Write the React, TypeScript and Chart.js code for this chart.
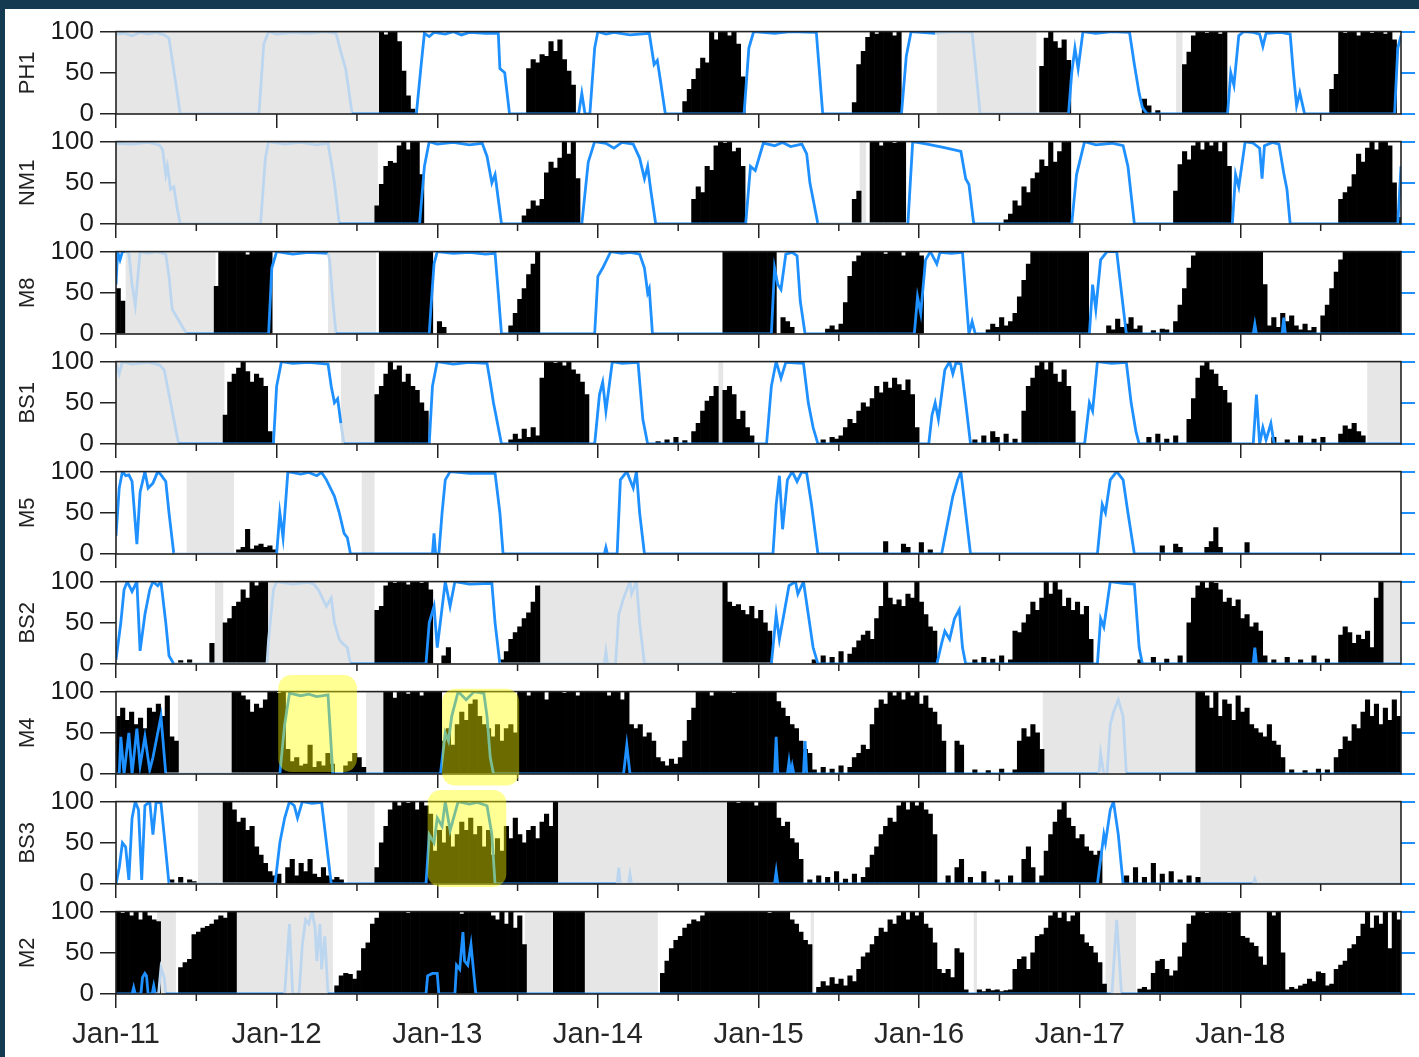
import React, { useEffect, useRef } from 'react';
import { Chart, registerables } from 'chart.js';

Chart.register(...registerables);
Chart.defaults.font.family = "'Liberation Sans', Arial, Helvetica, sans-serif";

// ---------- axis definitions ----------
const X_START = 2011;
const X_END = 2019;
const BINS_PER_YEAR = 36;
const X_TICK_YEARS = [2011, 2012, 2013, 2014, 2015, 2016, 2017, 2018];
const X_TICK_LABELS = ['Jan-11', 'Jan-12', 'Jan-13', 'Jan-14', 'Jan-15', 'Jan-16', 'Jan-17', 'Jan-18'];
const MINOR_TICK_YEARS = [2011.5, 2012.5, 2013.5, 2014.5, 2015.5, 2016.5, 2017.5, 2018.5];
const Y_MIN = 0;
const Y_MAX = 100;
const Y_STEP = 50;

// ---------- data (bars: one row of 36 ~10-day bins per year; blue: [decimal year, value]; gaps: [from, to]) ----------
const PH1_BARS = [
  [0,0,0,0,0,0,0,0,0,0, 0,0,0,0,0,0,0,0,0,0, 0,0,0,0,0,0,0,0,0,0, 0,0,0,0,0,0],
  [0,0,0,0,0,0,0,0,0,0, 0,0,0,0,0,0,0,0,0,0, 0,0,0,100,96,100,100,88,52,22, 6,0,0,0,0,0],
  [0,0,0,0,0,0,0,0,0,0, 0,0,0,0,0,0,0,0,0,0, 55,66,62,72,70,88,76,90,66,52, 35,0,0,0,0,0],
  [0,0,0,0,0,0,0,0,0,0, 0,0,0,0,0,0,0,0,0,15, 30,42,55,68,62,100,90,100,100,95, 100,85,45,0,0,0],
  [0,0,0,0,0,0,0,0,0,0, 0,0,0,0,0,0,0,0,0,0, 0,14,60,76,93,100,97,100,100,100, 95,100,0,0,0,0],
  [0,0,0,0,0,0,0,0,0,0, 0,0,0,0,0,0,0,0,0,0, 0,0,0,0,0,0,0,58,92,100, 88,80,90,65,0,0],
  [0,0,0,0,0,0,0,0,0,0, 0,0,0,0,18,10,0,4,0,0, 0,0,0,60,75,95,100,100,98,100, 100,97,100,0,0,0],
  [0,0,0,0,0,0,0,0,0,0, 0,0,0,0,0,0,0,0,0,0, 30,48,100,98,100,100,95,100,100,98, 100,100,97,100,90,0],
];
const PH1_BLUE = [
  [2011.00,97],[2011.05,98],[2011.10,95],[2011.15,99],[2011.20,97],[2011.25,99],[2011.30,96],[2011.33,92],[2011.37,40],[2011.40,0],
  [2011.89,0],[2011.92,85],[2011.95,100],[2012.00,97],[2012.10,99],[2012.20,98],[2012.30,100],[2012.37,98],[2012.40,75],[2012.43,55],[2012.47,0],
  [2012.87,0],[2012.90,60],[2012.92,98],[2012.95,94],[2012.98,99],[2013.05,97],[2013.10,100],[2013.15,96],[2013.20,99],[2013.30,98],[2013.38,98],[2013.39,55],[2013.42,50],[2013.45,0],
  [2013.88,0],[2013.90,25],[2013.92,0],[2013.95,0],[2013.98,80],[2014.00,100],[2014.05,97],[2014.10,99],[2014.20,96],[2014.32,98],[2014.35,60],[2014.37,65],[2014.39,40],[2014.42,0],
  [2014.91,0],[2014.94,80],[2014.97,100],[2015.10,98],[2015.20,100],[2015.36,99],[2015.40,0],
  [2015.89,0],[2015.92,70],[2015.95,100],[2016.10,98],[2016.20,100],[2016.33,99],[2016.38,0],
  [2016.93,0],[2016.95,50],[2016.97,80],[2016.99,55],[2017.02,100],[2017.10,98],[2017.20,100],[2017.31,99],[2017.34,60],[2017.37,25],[2017.39,8],[2017.42,0],
  [2017.92,0],[2017.94,50],[2017.96,35],[2017.99,95],[2018.02,100],[2018.08,99],[2018.12,97],[2018.14,82],[2018.16,98],[2018.25,99],[2018.31,97],[2018.33,50],[2018.35,10],[2018.37,26],[2018.40,0],
  [2018.96,0],[2018.98,80],[2019.00,95],
];
const PH1_GAPS = [[2011, 2012.63], [2016.11, 2016.73], [2017.60, 2017.64]];

const NM1_BARS = [
  [0,0,0,0,0,0,0,0,0,0, 0,0,0,0,0,0,0,0,0,0, 0,0,0,0,0,0,0,0,0,0, 0,0,0,0,0,0],
  [0,0,0,0,0,0,0,0,0,0, 0,0,0,0,0,0,0,0,0,0, 0,0,22,48,70,76,74,95,100,90, 100,100,60,0,0,0],
  [0,0,0,0,0,0,0,0,0,0, 0,0,0,0,0,0,0,0,0,10, 18,28,22,30,62,75,68,80,100,85, 100,55,0,0,0,0],
  [0,0,0,0,0,0,0,0,0,0, 0,0,0,0,0,0,0,0,0,0, 0,30,45,38,70,65,95,100,98,100, 88,92,70,0,0,0],
  [0,0,0,0,0,0,0,0,0,0, 0,0,0,0,0,0,0,0,0,0, 0,30,40,0,0,100,100,95,100,100, 98,100,100,0,0,0],
  [0,0,0,0,0,0,0,0,0,0, 0,0,0,0,0,0,0,0,0,5, 12,28,22,45,38,55,62,78,70,100, 75,88,100,100,0,0],
  [0,0,0,0,0,0,0,0,0,0, 0,0,0,0,0,0,0,0,0,0, 0,40,72,88,78,95,100,90,100,95, 100,88,100,70,0,0],
  [0,0,0,0,0,0,0,0,0,0, 0,0,0,0,0,0,0,0,0,0, 0,0,30,38,45,60,85,75,92,100, 90,100,100,95,50,8],
];
const NM1_BLUE = [
  [2011.00,98],[2011.10,97],[2011.20,99],[2011.27,96],[2011.29,90],[2011.31,60],[2011.32,70],[2011.34,42],[2011.36,45],[2011.38,20],[2011.40,0],
  [2011.90,0],[2011.93,80],[2011.95,100],[2012.05,97],[2012.15,99],[2012.25,96],[2012.32,98],[2012.34,75],[2012.36,50],[2012.39,0],
  [2012.89,0],[2012.92,70],[2012.95,100],[2013.00,97],[2013.10,99],[2013.20,96],[2013.28,98],[2013.31,82],[2013.34,50],[2013.36,60],[2013.38,30],[2013.40,0],
  [2013.90,0],[2013.94,75],[2013.98,100],[2014.05,98],[2014.10,92],[2014.15,99],[2014.22,97],[2014.26,80],[2014.29,55],[2014.31,70],[2014.33,40],[2014.36,0],
  [2014.92,0],[2014.95,70],[2014.98,65],[2015.03,98],[2015.10,95],[2015.15,99],[2015.20,94],[2015.27,97],[2015.30,85],[2015.32,50],[2015.34,30],[2015.37,0],
  [2015.93,0],[2015.96,100],[2016.05,97],[2016.15,93],[2016.22,90],[2016.26,88],[2016.29,55],[2016.31,48],[2016.34,0],
  [2016.95,0],[2016.98,60],[2017.03,100],[2017.10,96],[2017.20,98],[2017.27,95],[2017.30,70],[2017.34,0],
  [2017.95,0],[2017.97,60],[2017.99,45],[2018.03,100],[2018.08,98],[2018.12,92],[2018.135,55],[2018.15,95],[2018.20,99],[2018.24,97],[2018.27,62],[2018.29,42],[2018.31,0],
  [2018.98,0],[2019.00,70],
];
const NM1_GAPS = [[2011, 2012.63], [2015.63, 2015.67]];

const M8_BARS = [
  [55,40,0,0,0,0,0,0,0,0, 0,0,0,0,0,0,0,0,0,0, 0,0,58,100,100,100,100,100,100,96, 100,100,100,100,100,0],
  [0,0,0,0,0,0,0,0,0,0, 0,0,0,0,0,0,0,0,0,0, 0,0,0,100,100,100,100,100,100,100, 100,100,100,100,100,0],
  [15,8,0,0,0,0,0,0,0,0, 0,0,0,0,0,0,10,25,42,55, 72,85,100,0,0,0,0,0,0,0, 0,0,0,0,0,0],
  [0,0,0,0,0,0,0,0,0,0, 0,0,0,0,0,0,0,0,0,0, 0,0,0,0,0,0,0,0,100,100, 100,100,100,100,100,100],
  [100,100,100,100,0,20,15,8,0,0, 0,0,0,0,0,6,10,5,12,38, 70,88,95,100,100,100,100,100,97,100, 100,100,95,100,100,100],
  [95,0,0,0,0,0,0,0,0,0, 0,0,0,0,0,5,12,8,20,10, 15,25,45,65,85,100,100,100,100,100, 100,100,100,100,100,100],
  [100,100,0,0,0,0,10,5,18,8, 12,20,6,10,0,0,4,0,6,5, 0,15,35,55,80,95,100,100,100,100, 100,100,100,100,100,100],
  [100,100,100,100,100,60,10,20,8,25, 15,22,10,5,12,4,8,0,22,35, 55,75,90,100,100,100,100,100,100,100, 100,100,100,100,100,100],
];
const M8_BLUE = [
  [2011.00,60],[2011.01,100],[2011.025,90],[2011.04,100],[2011.06,100],[2011.08,98],[2011.10,60],[2011.12,35],[2011.15,100],[2011.20,98],[2011.25,100],[2011.31,97],[2011.33,70],[2011.35,30],[2011.38,20],[2011.41,10],[2011.44,0],
  [2011.95,0],[2011.97,80],[2012.00,100],[2012.10,97],[2012.20,99],[2012.32,98],[2012.33,90],[2012.35,40],[2012.37,0],
  [2012.95,0],[2012.96,30],[2012.98,85],[2013.00,100],[2013.10,98],[2013.20,99],[2013.30,97],[2013.36,98],[2013.38,50],[2013.40,0],
  [2013.98,0],[2014.00,70],[2014.03,80],[2014.08,100],[2014.15,98],[2014.20,99],[2014.26,97],[2014.29,80],[2014.31,50],[2014.32,55],[2014.34,0],
  [2015.08,0],[2015.10,80],[2015.12,60],[2015.14,54],[2015.17,97],[2015.21,99],[2015.24,95],[2015.26,40],[2015.29,0],
  [2015.97,0],[2015.99,45],[2016.01,25],[2016.04,90],[2016.07,100],[2016.11,85],[2016.13,99],[2016.20,98],[2016.27,99],[2016.29,50],[2016.31,0],[2016.33,15],[2016.35,0],
  [2017.06,0],[2017.08,60],[2017.10,30],[2017.13,90],[2017.17,100],[2017.23,100],[2017.26,50],[2017.29,0],
  [2018.08,0],[2018.09,12],[2018.10,0],[2018.26,0],[2018.27,20],[2018.28,0],[2019.00,0],
];
const M8_GAPS = [[2011.06, 2011.62], [2012.32, 2012.62]];

const BS1_BARS = [
  [0,0,0,0,0,0,0,0,0,0, 0,0,0,0,0,0,0,0,0,0, 0,0,0,0,35,75,85,92,100,88, 75,85,80,70,15,0],
  [0,0,0,0,0,0,0,0,0,0, 0,0,0,0,0,0,0,0,0,0, 0,0,60,70,85,100,90,95,75,85, 70,65,50,40,0,0],
  [0,0,0,0,0,0,0,0,0,0, 0,0,0,0,0,0,5,12,6,18, 8,20,10,80,100,100,98,100,95,100, 90,85,75,60,0,0],
  [0,0,0,0,0,0,0,0,0,0, 0,0,0,3,0,5,0,8,0,4, 0,15,25,40,52,58,70,0,65,70, 60,30,40,20,10,0],
  [0,0,0,0,0,0,0,0,0,0, 0,0,0,0,5,0,8,6,10,20, 30,25,40,50,45,55,70,62,75,68, 80,72,65,78,60,20],
  [0,0,0,0,0,0,0,0,0,0, 0,0,5,0,10,0,15,8,0,12, 0,6,0,40,70,80,95,100,90,100, 85,75,90,70,40,0],
  [0,0,0,0,0,0,0,0,0,0, 0,0,0,0,0,8,0,12,0,6, 0,10,0,0,30,55,80,95,100,90, 85,70,65,50,0,0],
  [0,0,0,0,0,0,0,8,0,0, 5,0,0,10,0,0,6,0,8,0, 0,0,12,22,18,25,15,10,0,0, 0,0,0,0,0,0],
];
const BS1_BLUE = [
  [2011.00,98],[2011.02,85],[2011.04,100],[2011.10,97],[2011.20,99],[2011.27,96],[2011.30,90],[2011.33,60],[2011.36,30],[2011.39,0],
  [2011.98,0],[2012.00,70],[2012.03,100],[2012.10,98],[2012.20,99],[2012.32,97],[2012.34,70],[2012.36,50],[2012.38,55],[2012.40,25],[2012.42,0],
  [2012.95,0],[2012.97,70],[2013.00,100],[2013.10,97],[2013.20,99],[2013.31,98],[2013.33,75],[2013.35,50],[2013.37,30],[2013.40,0],
  [2013.98,0],[2014.01,60],[2014.03,75],[2014.05,40],[2014.09,100],[2014.15,98],[2014.25,99],[2014.28,30],[2014.31,0],
  [2015.05,0],[2015.08,70],[2015.11,100],[2015.14,80],[2015.17,99],[2015.28,98],[2015.31,50],[2015.34,20],[2015.37,0],
  [2016.06,0],[2016.08,35],[2016.10,50],[2016.12,30],[2016.16,90],[2016.19,100],[2016.21,85],[2016.23,99],[2016.26,97],[2016.29,50],[2016.32,0],
  [2017.03,0],[2017.06,50],[2017.08,40],[2017.11,100],[2017.20,98],[2017.29,99],[2017.32,50],[2017.35,15],[2017.37,0],
  [2018.08,0],[2018.10,60],[2018.12,0],[2018.14,20],[2018.16,5],[2018.19,25],[2018.21,0],[2019.00,0],
];
const BS1_GAPS = [[2011, 2011.675], [2012.40, 2012.61], [2014.75, 2014.78], [2018.79, 2019]];

const M5_BARS = [
  [0,0,0,0,0,0,0,0,0,0, 0,0,0,0,0,0,0,0,0,0, 0,0,0,0,0,0,0,5,8,30, 6,10,12,8,10,5],
  [0,0,0,0,0,0,0,0,0,0, 0,0,0,0,0,0,0,0,0,0, 0,0,0,0,0,0,0,0,0,0, 0,0,0,0,0,0],
  [0,0,0,0,0,0,0,0,0,0, 0,0,0,0,0,0,0,0,0,0, 0,0,0,0,0,0,0,0,0,0, 0,0,0,0,0,0],
  [0,0,0,0,0,0,0,0,0,0, 0,0,0,0,0,0,0,0,0,0, 0,0,0,0,0,0,0,0,0,0, 0,0,0,0,0,0],
  [0,0,0,0,0,0,0,0,0,0, 0,0,0,0,0,0,0,0,0,0, 0,0,0,0,0,0,0,0,15,0, 0,0,12,8,0,0],
  [14,0,5,0,0,0,0,0,0,0, 0,0,0,0,0,0,0,0,0,0, 0,0,0,0,0,0,0,0,0,0, 0,0,0,0,0,0],
  [0,0,0,0,0,0,0,0,0,0, 0,0,0,0,0,0,0,0,10,0, 0,12,8,0,0,0,0,0,8,15, 32,8,0,0,0,0],
  [0,14,0,0,0,0,0,0,0,0, 0,0,0,0,0,0,0,0,0,0, 0,0,0,0,0,0,0,0,0,0, 0,0,0,0,0,0],
];
const M5_BLUE = [
  [2011.00,22],[2011.02,80],[2011.04,100],[2011.06,95],[2011.08,96],[2011.10,88],[2011.13,12],[2011.15,75],[2011.18,100],[2011.20,80],[2011.23,86],[2011.26,100],[2011.28,96],[2011.31,88],[2011.33,50],[2011.36,0],
  [2012.00,0],[2012.02,50],[2012.04,20],[2012.07,100],[2012.15,97],[2012.20,99],[2012.25,95],[2012.28,99],[2012.31,90],[2012.36,70],[2012.39,50],[2012.42,25],[2012.44,20],[2012.46,0],
  [2012.97,0],[2012.98,25],[2012.99,0],[2013.01,0],[2013.03,50],[2013.05,90],[2013.08,100],[2013.20,98],[2013.36,98],[2013.39,50],[2013.41,0],
  [2014.04,0],[2014.05,8],[2014.06,0],[2014.12,0],[2014.14,90],[2014.18,100],[2014.22,80],[2014.24,100],[2014.26,50],[2014.29,0],
  [2015.09,0],[2015.11,60],[2015.13,95],[2015.15,30],[2015.18,90],[2015.21,100],[2015.24,88],[2015.27,100],[2015.30,98],[2015.33,60],[2015.37,0],
  [2016.14,0],[2016.19,50],[2016.21,70],[2016.24,90],[2016.26,100],[2016.29,50],[2016.32,0],
  [2017.11,0],[2017.14,60],[2017.16,50],[2017.19,90],[2017.23,100],[2017.27,90],[2017.30,50],[2017.34,0],[2019.00,0],
];
const M5_GAPS = [[2011.44, 2011.735], [2012.53, 2012.61]];

const BS2_BARS = [
  [0,0,0,0,0,0,0,0,0,0, 0,0,0,0,4,0,5,0,0,0, 0,25,0,0,50,55,70,75,90,80, 100,95,100,100,0,0],
  [0,0,0,0,0,0,0,0,0,0, 0,0,0,0,0,0,0,0,0,0, 0,0,65,70,95,100,98,100,100,96, 100,100,98,100,90,0],
  [0,10,20,0,0,0,0,0,0,0, 0,0,0,0,5,15,30,38,45,55, 62,75,95,0,0,0,0,0,0,0, 0,0,0,0,0,0],
  [0,0,0,0,0,0,0,0,0,0, 0,0,0,0,0,0,0,0,0,0, 0,0,0,0,0,0,0,0,100,75, 70,72,65,60,70,55],
  [65,50,40,0,0,0,0,0,0,0, 0,0,5,0,10,0,8,0,15,0, 12,20,28,35,40,30,55,70,100,80, 72,78,70,85,80,100],
  [75,60,45,40,0,0,0,0,0,0, 0,0,5,0,8,0,6,0,10,0, 5,40,38,50,60,75,65,80,100,85, 100,90,70,80,65,75],
  [60,70,30,0,0,0,0,0,0,0, 0,0,0,5,0,0,8,0,0,6, 0,0,10,0,50,80,95,100,92,100, 98,90,75,80,70,78],
  [55,60,45,50,40,10,0,5,0,0, 8,0,0,5,0,0,10,0,0,6, 0,0,35,45,38,25,35,30,40,20, 80,100,0,0,0,0],
];
const BS2_BLUE = [
  [2011.00,5],[2011.03,50],[2011.05,90],[2011.07,100],[2011.10,88],[2011.13,100],[2011.15,16],[2011.18,60],[2011.21,90],[2011.23,100],[2011.26,95],[2011.28,100],[2011.31,50],[2011.33,10],[2011.36,0],
  [2011.94,0],[2011.95,30],[2011.98,90],[2012.00,100],[2012.10,97],[2012.20,99],[2012.23,97],[2012.26,90],[2012.31,70],[2012.34,80],[2012.36,50],[2012.39,30],[2012.41,25],[2012.44,20],[2012.46,0],
  [2012.93,0],[2012.95,50],[2012.98,70],[2013.00,20],[2013.05,100],[2013.08,70],[2013.11,100],[2013.20,97],[2013.34,98],[2013.36,50],[2013.39,0],
  [2014.04,0],[2014.05,15],[2014.06,0],[2014.11,0],[2014.13,60],[2014.16,80],[2014.20,100],[2014.21,85],[2014.24,100],[2014.26,50],[2014.29,0],
  [2015.08,0],[2015.11,60],[2015.13,30],[2015.19,95],[2015.23,100],[2015.245,85],[2015.28,100],[2015.31,60],[2015.34,20],[2015.37,0],
  [2016.11,0],[2016.14,25],[2016.16,40],[2016.19,30],[2016.22,55],[2016.25,66],[2016.27,20],[2016.29,0],
  [2017.11,0],[2017.13,55],[2017.15,45],[2017.19,100],[2017.27,98],[2017.34,97],[2017.37,20],[2017.39,0],
  [2018.08,0],[2018.09,20],[2018.10,0],[2019.00,0],
];
const BS2_GAPS = [[2011.616, 2011.668], [2011.94, 2012.61], [2013.635, 2014.785], [2018.884, 2019]];

const M4_BARS = [
  [70,80,65,75,60,68,55,80,75,85, 70,95,45,40,0,0,0,0,0,0, 0,0,0,0,0,0,100,100,95,90, 75,85,80,90,100,100],
  [98,100,30,15,20,10,12,35,8,15, 10,25,12,0,0,10,15,25,20,8, 0,0,0,0,100,100,92,100,100,97, 100,100,95,100,100,100],
  [100,40,55,35,60,75,65,85,90,70, 60,55,45,60,40,55,60,50,100,100, 95,100,100,100,90,100,100,100,98,100, 100,95,100,100,100,100],
  [100,100,95,100,100,90,100,60,55,60, 45,50,40,20,15,10,18,12,20,40, 65,80,100,100,100,95,100,100,100,100, 98,100,100,100,100,100],
  [100,100,100,100,88,80,70,60,55,40, 30,25,5,0,8,0,6,0,10,0, 8,20,25,35,30,60,80,90,85,100, 95,100,90,100,95,100],
  [85,95,80,75,60,40,0,0,40,35, 0,0,5,0,0,4,0,0,6,0, 0,5,40,55,45,60,50,30,0,0, 0,0,0,0,0,0],
  [0,0,0,0,0,0,0,0,0,0, 0,0,0,0,0,0,0,0,0,0, 0,0,0,0,0,0,100,100,95,80, 100,70,90,85,65,95],
  [75,80,60,55,50,45,60,40,35,20, 0,5,0,0,4,0,0,6,0,5, 0,20,30,45,40,60,55,75,90,70, 85,60,80,65,90,70],
];
const M4_BLUE = [
  [2011.00,0],[2011.02,0],[2011.03,45],[2011.05,0],[2011.08,50],[2011.10,0],[2011.13,55],[2011.15,10],[2011.18,45],[2011.21,5],[2011.23,20],[2011.26,50],[2011.28,70],[2011.31,0],
  [2012.02,0],[2012.05,60],[2012.08,98],[2012.15,95],[2012.20,97],[2012.25,94],[2012.32,96],[2012.35,0],
  [2013.02,0],[2013.05,50],[2013.07,40],[2013.09,70],[2013.13,100],[2013.18,90],[2013.23,100],[2013.29,98],[2013.31,70],[2013.33,20],[2013.35,0],
  [2014.16,0],[2014.18,35],[2014.20,0],
  [2015.10,0],[2015.11,45],[2015.12,0],[2015.18,0],[2015.19,15],[2015.20,0],[2015.21,10],[2015.22,0],[2015.28,0],[2015.29,40],[2015.30,0],
  [2017.12,0],[2017.13,25],[2017.15,0],[2017.17,0],[2017.19,60],[2017.21,75],[2017.24,90],[2017.27,70],[2017.29,0],[2019.00,0],
];
const M4_GAPS = [[2011.385, 2011.735], [2012.556, 2012.669], [2016.77, 2017.73]];

const BS3_BARS = [
  [0,0,0,0,0,0,0,0,0,0, 0,0,5,0,8,0,5,3,0,0, 0,0,0,0,100,100,90,75,80,65, 70,45,35,25,15,10],
  [12,0,20,30,10,25,15,30,12,8, 20,10,5,8,5,0,0,0,0,0, 0,0,20,50,70,90,100,95,100,98, 100,90,100,95,85,40],
  [65,50,70,45,60,75,65,80,60,70, 45,65,35,55,40,70,55,80,60,50, 65,70,55,75,85,70,100,0,0,0, 0,0,0,0,0,0],
  [0,0,0,0,0,0,0,0,0,0, 0,0,0,0,0,0,0,0,0,0, 0,0,0,0,0,0,0,0,0,100, 100,98,100,100,100,95],
  [100,100,100,100,80,70,75,55,50,30, 0,5,0,10,0,8,0,15,0,6, 0,12,0,8,20,35,45,60,70,80, 75,95,100,90,100,95],
  [100,90,85,60,0,0,10,0,20,30, 0,8,0,0,15,0,0,5,0,0, 10,0,0,30,45,20,0,10,40,60, 75,90,100,80,70,55],
  [60,45,40,35,40,0,0,0,0,0, 10,0,20,0,8,0,25,0,12,0, 15,0,5,0,10,0,8,0,0,0, 0,0,0,0,0,0],
  [0,0,0,0,0,0,0,0,0,0, 0,0,0,0,0,0,0,0,0,0, 0,0,0,0,0,0,0,0,0,0, 0,0,0,0,0,0],
];
const BS3_BLUE = [
  [2011.00,0],[2011.02,20],[2011.04,50],[2011.06,45],[2011.08,5],[2011.10,80],[2011.12,100],[2011.14,90],[2011.16,5],[2011.18,95],[2011.21,100],[2011.23,60],[2011.25,100],[2011.28,98],[2011.31,40],[2011.33,0],
  [2011.99,0],[2012.02,50],[2012.05,80],[2012.08,100],[2012.11,95],[2012.13,80],[2012.16,100],[2012.22,98],[2012.28,99],[2012.31,50],[2012.34,0],
  [2012.93,0],[2012.95,60],[2012.98,50],[2013.00,80],[2013.03,70],[2013.05,100],[2013.08,65],[2013.13,100],[2013.20,97],[2013.25,99],[2013.31,95],[2013.34,60],[2013.36,0],
  [2014.12,0],[2014.13,20],[2014.14,0],[2014.19,0],[2014.20,12],[2014.21,0],
  [2015.10,0],[2015.11,15],[2015.12,0],
  [2017.11,0],[2017.15,60],[2017.16,50],[2017.19,90],[2017.21,100],[2017.24,60],[2017.27,0],
  [2018.08,0],[2018.09,6],[2018.10,0],[2019.00,0],
];
const BS3_GAPS = [[2011.51, 2011.67], [2012.44, 2012.61], [2013.75, 2014.80], [2017.75, 2019]];

const M2_BARS = [
  [100,98,100,95,100,90,100,95,90,88, 0,0,0,0,32,38,42,72,75,80, 82,85,90,95,92,100,100,0,0,0, 0,0,0,0,0,0],
  [0,0,0,0,0,0,0,0,0,0, 0,0,0,10,22,25,24,18,28,55, 62,85,92,100,100,100,100,100,100,98, 100,100,100,100,100,100],
  [100,100,100,100,100,97,100,100,100,100, 100,100,95,90,100,85,100,80,95,60, 0,0,0,0,0,0,100,100,100,100, 100,100,100,0,0,0],
  [0,0,0,0,0,0,0,0,0,0, 0,0,0,0,25,40,55,65,70,80, 85,90,88,95,100,100,100,100,100,100, 100,100,100,100,100,100],
  [100,100,98,100,100,100,100,90,85,75, 65,60,0,8,15,10,20,12,18,10, 22,15,30,45,50,60,70,80,75,90, 85,95,100,90,100,95],
  [100,85,80,62,30,25,30,20,55,50, 5,0,0,5,3,6,4,5,3,4, 5,30,42,45,30,50,70,72,80,95, 100,92,100,88,95,100],
  [72,62,58,50,38,12,0,0,0,0, 0,0,0,6,8,5,25,40,42,30, 22,28,45,62,85,95,100,100,98,100, 100,100,100,98,100,100],
  [70,68,62,58,45,35,100,95,100,50, 5,8,6,10,12,18,15,27,25,10, 12,30,35,40,55,60,70,85,100,80, 95,85,100,55,100,90],
];
const M2_BLUE = [
  [2011.00,0],[2011.10,0],[2011.11,8],[2011.12,0],[2011.155,0],[2011.165,20],[2011.18,25],[2011.19,22],[2011.20,0],[2011.225,0],[2011.235,10],[2011.245,0],
  [2011.265,0],[2011.28,32],[2011.30,20],[2011.31,0],
  [2012.05,0],[2012.08,85],[2012.10,0],[2012.14,0],[2012.16,60],[2012.18,90],[2012.20,85],[2012.22,100],[2012.24,80],[2012.25,40],[2012.27,85],[2012.28,30],[2012.30,70],[2012.32,0],
  [2012.93,0],[2012.94,22],[2012.97,25],[2013.00,25],[2013.01,0],
  [2013.11,0],[2013.12,35],[2013.14,30],[2013.16,75],[2013.17,40],[2013.19,35],[2013.21,60],[2013.23,20],[2013.24,0],
  [2017.20,0],[2017.23,90],[2017.26,0],[2019.00,0],
];
const M2_GAPS = [[2011.255, 2011.373], [2011.74, 2012.35], [2013.545, 2013.713], [2013.90, 2014.373], [2015.325, 2015.345], [2016.34, 2016.36], [2017.16, 2017.35]];

// highlighted windows in data units: [fromYear, toYear, fromValue, toValue]
const M4_HIGHLIGHTS = [[2012.01, 2012.50, 2.5, 120], [2013.03, 2013.51, -14, 103.5]];
const BS3_HIGHLIGHTS = [[2012.94, 2013.43, -3.5, 114]];

type Panel = { name: string; bars: number[][]; blue: number[][]; gaps: number[][]; highlights: number[][] };
const PANELS: Panel[] = [
  { name: 'PH1', bars: PH1_BARS, blue: PH1_BLUE, gaps: PH1_GAPS, highlights: [] },
  { name: 'NM1', bars: NM1_BARS, blue: NM1_BLUE, gaps: NM1_GAPS, highlights: [] },
  { name: 'M8', bars: M8_BARS, blue: M8_BLUE, gaps: M8_GAPS, highlights: [] },
  { name: 'BS1', bars: BS1_BARS, blue: BS1_BLUE, gaps: BS1_GAPS, highlights: [] },
  { name: 'M5', bars: M5_BARS, blue: M5_BLUE, gaps: M5_GAPS, highlights: [] },
  { name: 'BS2', bars: BS2_BARS, blue: BS2_BLUE, gaps: BS2_GAPS, highlights: [] },
  { name: 'M4', bars: M4_BARS, blue: M4_BLUE, gaps: M4_GAPS, highlights: M4_HIGHLIGHTS },
  { name: 'BS3', bars: BS3_BARS, blue: BS3_BLUE, gaps: BS3_GAPS, highlights: BS3_HIGHLIGHTS },
  { name: 'M2', bars: M2_BARS, blue: M2_BLUE, gaps: M2_GAPS, highlights: [] },
];

// ---------- styles ----------
const BLUE = '#1e90ff';
const FADED_BLUE = '#bcd6ef';
const GAP_FILL = '#e6e6e6';
const AXIS_COLOR = '#222222';
const HIGHLIGHT_FILL = 'rgba(255,255,0,0.42)';
const PAGE_BORDER = '#133a50';
const CANVAS_W = 1414;
const PANEL_PITCH = 110;
const PLOT_TOP = 20;
const PLOT_BOTTOM = 104;

function PanelChart({ index }: { index: number }) {
  const ref = useRef<HTMLCanvasElement | null>(null);
  const panel = PANELS[index];
  const isLast = index === PANELS.length - 1;
  const H = isLast ? 175 : 150;

  useEffect(() => {
    const canvas = ref.current;
    if (!canvas) return;
    const barData: { x: number; y: number }[] = [];
    panel.bars.forEach((row, yi) => {
      row.forEach((v, j) => {
        if (v > 0) barData.push({ x: X_START + yi + (j + 0.5) / BINS_PER_YEAR, y: v });
      });
    });
    const lineData = panel.blue.map(([x, y]) => ({ x, y }));
    const inGap = (x: number) => panel.gaps.some(([a, b]) => x >= a && x <= b);

    const gapPlugin = {
      id: 'gapShading',
      beforeDatasetsDraw(chart: any) {
        const { ctx, chartArea, scales } = chart;
        ctx.save();
        ctx.fillStyle = GAP_FILL;
        for (const [a, b] of panel.gaps) {
          const x0 = scales.x.getPixelForValue(a);
          const x1 = scales.x.getPixelForValue(b);
          ctx.fillRect(x0, chartArea.top, x1 - x0, chartArea.bottom - chartArea.top);
        }
        ctx.restore();
      },
    };
    const overlayPlugin = {
      id: 'overlay',
      afterDatasetsDraw(chart: any) {
        const { ctx, chartArea, scales } = chart;
        const { left, right, top, bottom } = chartArea;
        ctx.save();
        ctx.strokeStyle = AXIS_COLOR;
        ctx.lineWidth = 1.6;
        ctx.strokeRect(left, top, right - left, bottom - top);
        ctx.lineWidth = 1.5;
        ctx.beginPath();
        for (const m of MINOR_TICK_YEARS) {
          const px = scales.x.getPixelForValue(m);
          ctx.moveTo(px, bottom);
          ctx.lineTo(px, bottom + 7);
        }
        ctx.stroke();
        ctx.fillStyle = HIGHLIGHT_FILL;
        for (const [x0, x1, y0, y1] of panel.highlights) {
          const px0 = scales.x.getPixelForValue(x0);
          const px1 = scales.x.getPixelForValue(x1);
          const py0 = scales.y.getPixelForValue(y1);
          const py1 = scales.y.getPixelForValue(y0);
          ctx.beginPath();
          if ((ctx as any).roundRect) (ctx as any).roundRect(px0, py0, px1 - px0, py1 - py0, 13);
          else ctx.rect(px0, py0, px1 - px0, py1 - py0);
          ctx.fill();
        }
        ctx.restore();
      },
    };

    const chart = new Chart(canvas, {
      type: 'bar',
      data: {
        datasets: [
          {
            type: 'line',
            data: lineData,
            borderColor: BLUE,
            borderWidth: 2.8,
            pointRadius: 0,
            tension: 0,
            order: 0,
            xAxisID: 'x',
            yAxisID: 'y',
            segment: {
              borderColor: (ctx: any) =>
                inGap((ctx.p0.parsed.x + ctx.p1.parsed.x) / 2) ? FADED_BLUE : BLUE,
            },
          } as any,
          {
            type: 'bar',
            data: barData,
            backgroundColor: '#000000',
            borderWidth: 0,
            barPercentage: 1,
            categoryPercentage: 1,
            order: 1,
            xAxisID: 'x',
            yAxisID: 'y',
          } as any,
        ],
      },
      options: {
        responsive: false,
        maintainAspectRatio: false,
        animation: false,
        devicePixelRatio: 1,
        events: [],
        layout: { padding: { top: PLOT_TOP, left: 0, right: 0, bottom: 0 } },
        plugins: { legend: { display: false }, tooltip: { enabled: false } },
        scales: {
          x: {
            type: 'linear',
            position: 'bottom',
            min: X_START,
            max: X_END,
            offset: false,
            afterBuildTicks: (axis: any) => {
              axis.ticks = X_TICK_YEARS.map((v) => ({ value: v }));
            },
            afterFit: (axis: any) => {
              axis.height = H - PLOT_BOTTOM;
            },
            ticks: {
              display: isLast,
              autoSkip: false,
              maxRotation: 0,
              minRotation: 0,
              padding: 9,
              color: '#262626',
              font: { size: 29.5 },
              callback: (value: any) => {
                const i = X_TICK_YEARS.indexOf(Number(value));
                return i >= 0 ? X_TICK_LABELS[i] : '';
              },
            },
            grid: {
              drawOnChartArea: false,
              drawTicks: true,
              tickLength: 14,
              color: AXIS_COLOR,
              lineWidth: 1.5,
              offset: false,
            },
            border: { display: false },
          },
          y: {
            type: 'linear',
            position: 'left',
            min: Y_MIN,
            max: Y_MAX,
            afterFit: (axis: any) => {
              axis.width = 111;
            },
            ticks: { stepSize: Y_STEP, padding: 6, color: '#1a1a1a', font: { size: 26 } },
            grid: { drawOnChartArea: false, drawTicks: true, tickLength: 16, color: AXIS_COLOR, lineWidth: 1.5 },
            border: { display: false },
            title: {
              display: true,
              text: panel.name,
              color: '#222222',
              font: { size: 22 },
              padding: { top: 10, bottom: 0 },
            },
          },
          y2: {
            type: 'linear',
            position: 'right',
            min: Y_MIN,
            max: Y_MAX,
            afterFit: (axis: any) => {
              axis.width = 18;
            },
            ticks: { display: false, stepSize: Y_STEP },
            grid: { drawOnChartArea: false, drawTicks: true, tickLength: 14, color: BLUE, lineWidth: 2 },
            border: { display: false },
          },
        },
      } as any,
      plugins: [gapPlugin, overlayPlugin],
    });
    return () => chart.destroy();
  }, []);

  return (
    <canvas
      ref={ref}
      width={CANVAS_W}
      height={H}
      style={{
        position: 'absolute',
        left: 5,
        top: 10 + PANEL_PITCH * index,
        width: CANVAS_W,
        height: H,
        display: 'block',
      }}
    />
  );
}

export default function App() {
  return (
    <div
      style={{
        position: 'fixed',
        left: 0,
        top: 0,
        width: 1419,
        height: 1057,
        background: PAGE_BORDER,
        overflow: 'hidden',
      }}
    >
      <div style={{ position: 'absolute', left: 5, top: 9, right: 0, bottom: 0, background: '#ffffff' }} />
      {PANELS.map((p, i) => (
        <PanelChart key={p.name} index={i} />
      ))}
    </div>
  );
}
